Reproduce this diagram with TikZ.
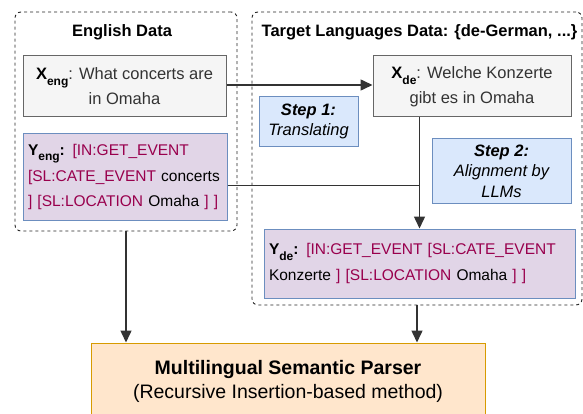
\documentclass[tikz,border=0pt]{standalone}
\usepackage{fontspec}
\setmainfont{Liberation Sans}
\definecolor{xfill}{HTML}{F5F5F5}
\definecolor{xline}{HTML}{666666}
\definecolor{xtext}{HTML}{333333}
\definecolor{yfill}{HTML}{E1D5E7}
\definecolor{bline}{HTML}{6C8EBF}
\definecolor{sfill}{HTML}{DAE8FC}
\definecolor{pfill}{HTML}{FFE6CC}
\definecolor{pline}{HTML}{D79B00}
\definecolor{tagred}{RGB}{153, 0, 77}
\definecolor{linkgray}{HTML}{333333}
\usetikzlibrary{arrows.meta, positioning, calc}
\newcommand{\lsub}[1]{\raisebox{-0.35em}{\fontsize{12}{12}\selectfont #1}}
\newcommand{\stag}[1]{\textcolor{tagred}{#1}}
\hyphenpenalty=10000

\begin{document}
\begin{tikzpicture}[x=1pt, y=-1pt,
  group/.style={draw=black!85, dash pattern=on 3pt off 3pt, line width=0.9pt, rounded corners=6pt, inner sep=0pt},
  gtitle/.style={font=\bfseries\fontsize{16.5}{20}\selectfont},
  xbox/.style={draw=xline, fill=xfill, text=xtext, line width=1pt, align=center, inner sep=0pt, font=\fontsize{16.5}{25}\selectfont},
  ybox/.style={draw=bline, fill=yfill, line width=1pt, align=left, inner ysep=0pt, inner xsep=5pt, font=\fontsize{15.5}{25.5}\selectfont},
  stepbox/.style={draw=bline, fill=sfill, line width=1pt, align=center, inner sep=0pt, font=\itshape\fontsize{16.5}{20.5}\selectfont},
  pbox/.style={draw=pline, fill=pfill, line width=1pt, align=center, inner sep=0pt, font=\fontsize{19.5}{24}\selectfont},
  link/.style={draw=linkgray, line width=1.5pt},
  arr/.style={link, -{Triangle[length=12pt, width=11pt]}}
]
  \useasboundingbox (0,0) rectangle (583,414);

  % dashed groups
  \node[group, minimum width=222pt, minimum height=219pt] (enggrp) at (126,121.5) {};
  \node[group, minimum width=330pt, minimum height=293pt] (tgtgrp) at (417,158.5) {};
  \node[gtitle] (engtitle) at (122,32) {English Data};
  \node[gtitle] (tgttitle) at (419.5,32) {Target Languages Data: \{de-German, ...\}};

  % English side
  \node[xbox, minimum width=203pt, minimum height=61pt] (xeng) at (124.5,86.5)
    {\textcolor{black}{\textbf{X\lsub{eng}}}: What concerts are\\in Omaha};
  \node[ybox, text width=194pt, minimum height=86pt] (yeng) at (125,177)
    {\textbf{Y\lsub{eng}:} \stag{[IN:GET\_EVENT}\\
     \stag{[SL:CATE\_EVENT} concerts\\
     \stag{] [SL:LOCATION} Omaha \stag{] ]}};

  % target side
  \node[xbox, minimum width=198pt, minimum height=61pt] (xde) at (472,86.5)
    {\textcolor{black}{\textbf{X\lsub{de}}}: Welche Konzerte\\gibt es in Omaha};
  \node[stepbox, minimum width=99pt, minimum height=50pt] (step1) at (308.5,121.5)
    {\textbf{Step 1:}\\Translating};
  \node[stepbox, minimum width=139pt, minimum height=64pt] (step2) at (501.5,171)
    {\textbf{Step 2:}\\Alignment by\\LLMs};
  \node[ybox, text width=301pt, minimum height=69pt] (yde) at (419.5,263.5)
    {\textbf{Y\lsub{de}:} \stag{[IN:GET\_EVENT [SL:CATE\_EVENT}\\
     Konzerte \stag{] [SL:LOCATION} Omaha \stag{] ]}};

  % parser
  \node[pbox, minimum width=394pt, minimum height=77pt] (parser) at (288,381.5)
    {\textbf{Multilingual Semantic Parser}\\(Recursive Insertion-based method)};

  % connectors
  \coordinate (merge) at ($(yde.north)+(0,-43)$);
  \draw[arr] (xeng.east |- 0,85) -- (xde.west |- 0,85);
  \draw[link] (yeng.east |- merge) -- (merge);
  \draw[arr] (xde.south -| yde.north) -- (yde.north);
  \draw[arr] (enggrp.south) -- (parser.north -| enggrp.south);
  \draw[arr] (tgtgrp.south) -- (parser.north -| tgtgrp.south);
\end{tikzpicture}
\end{document}
